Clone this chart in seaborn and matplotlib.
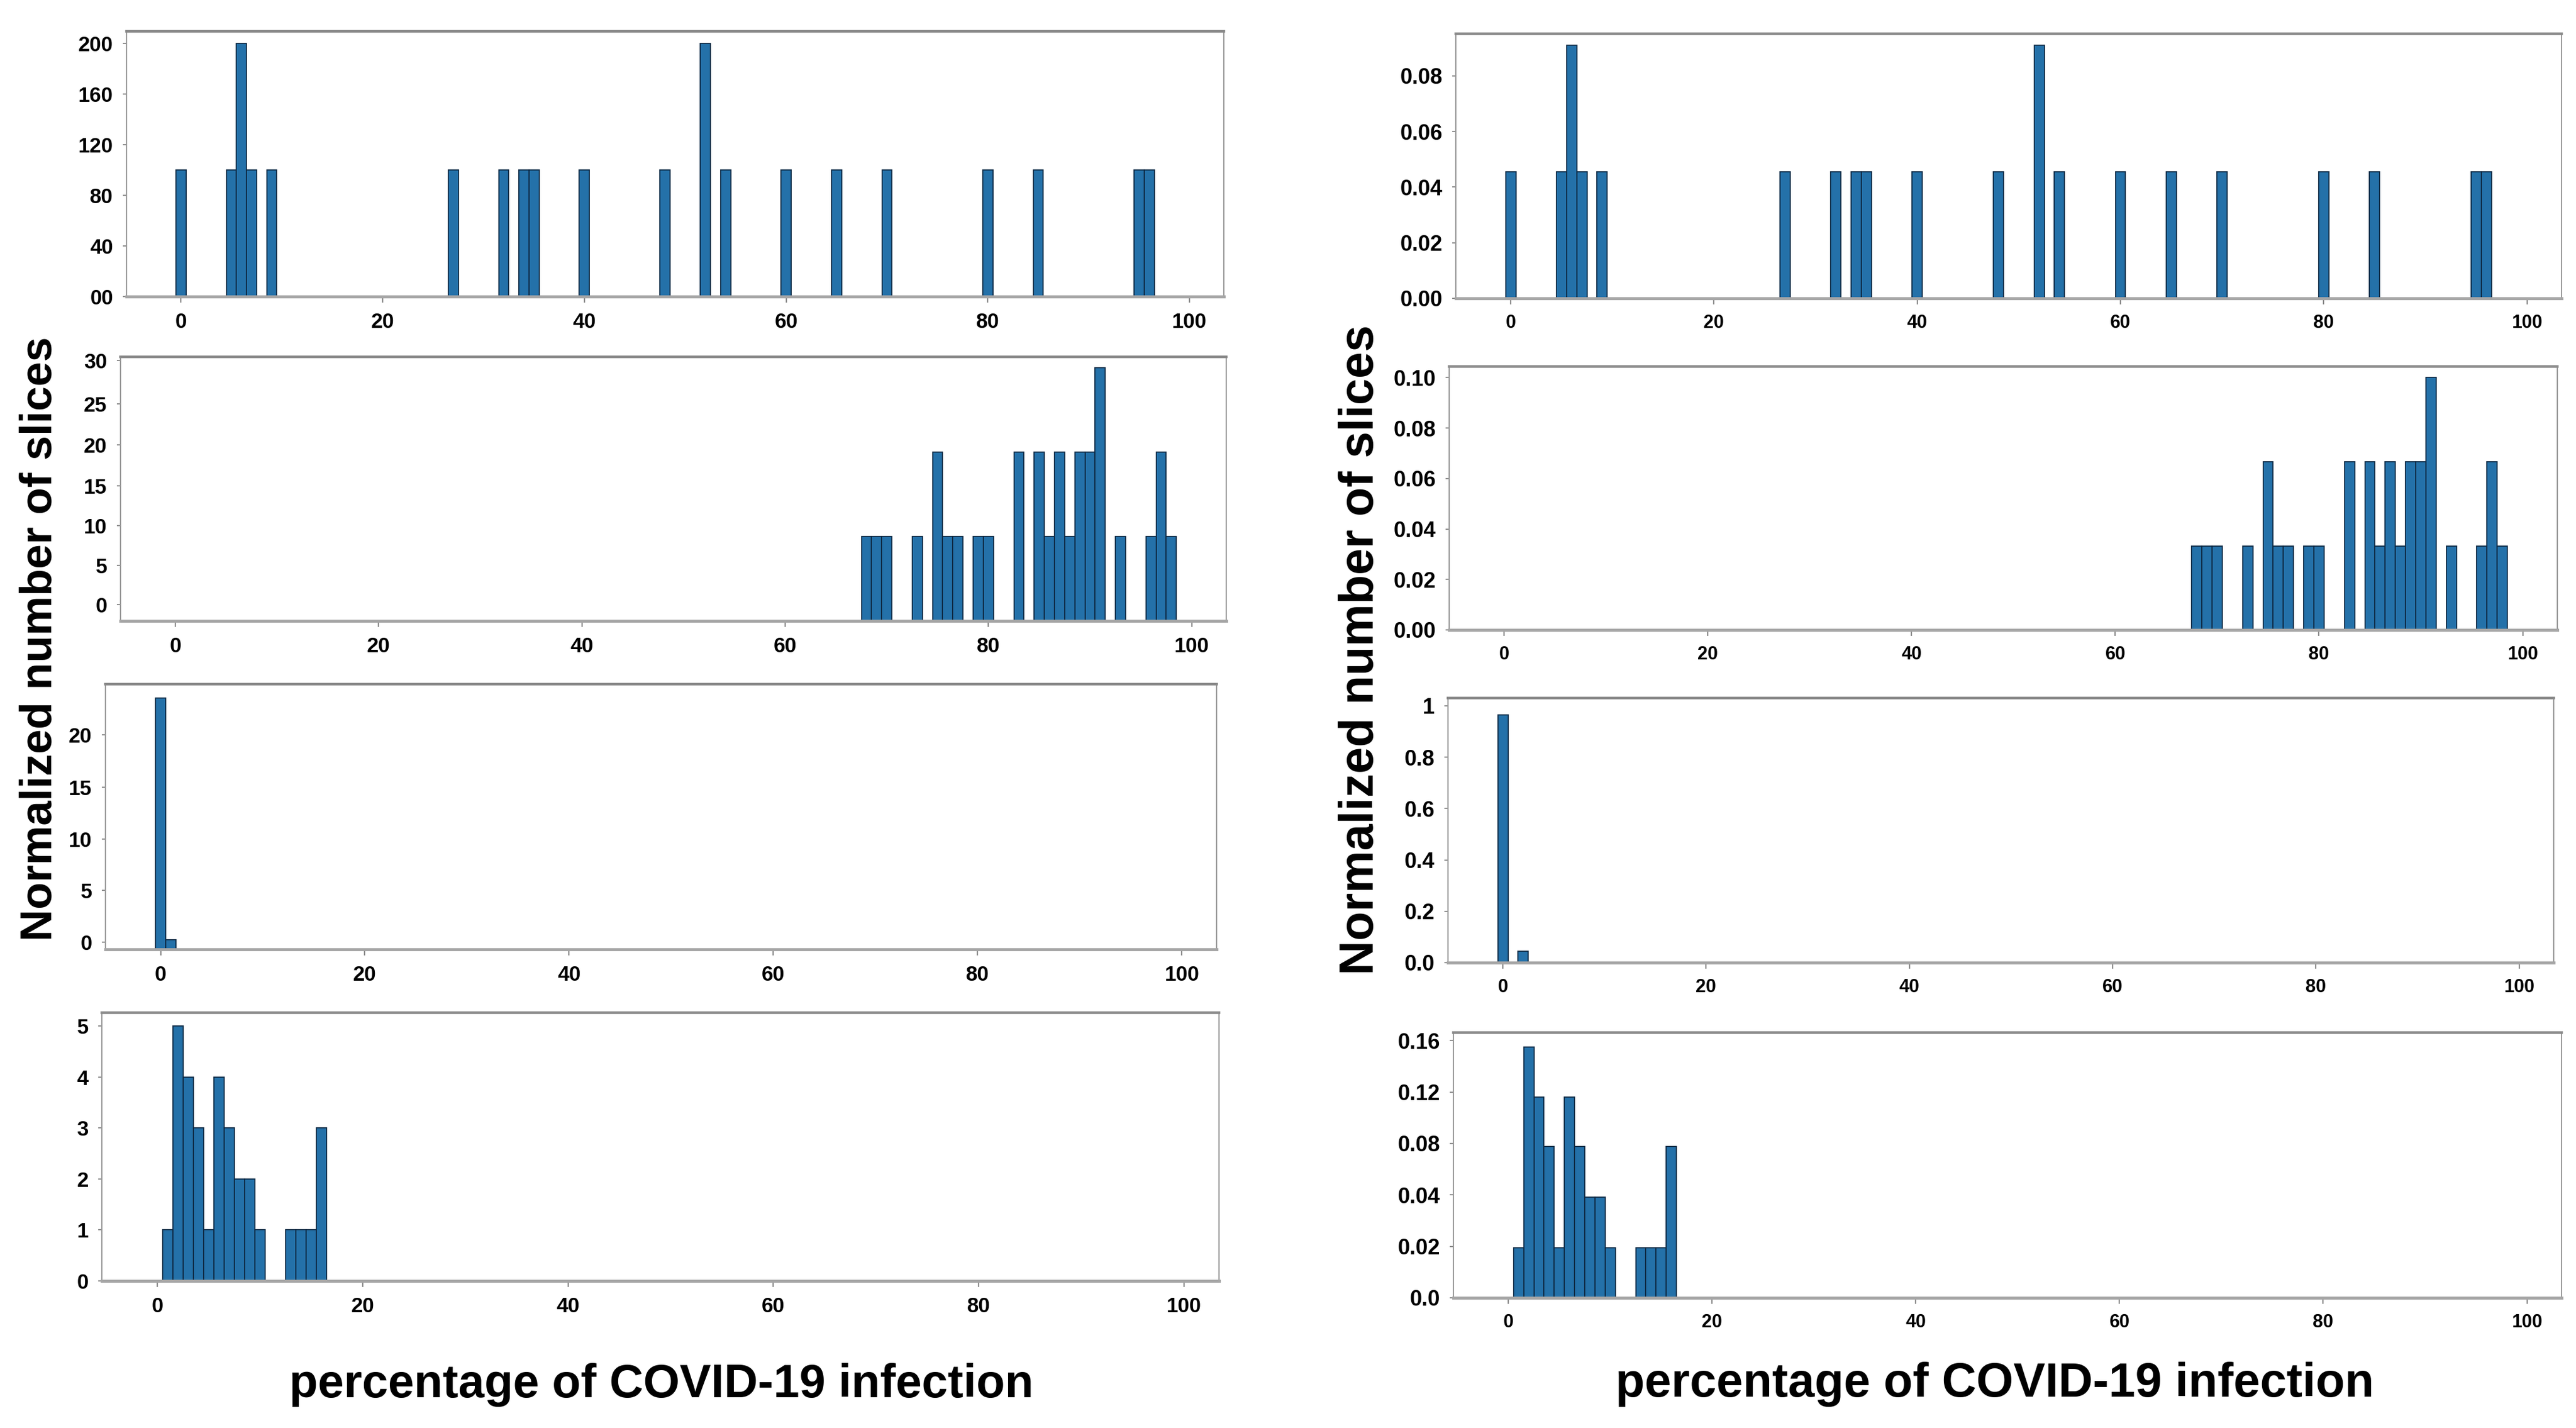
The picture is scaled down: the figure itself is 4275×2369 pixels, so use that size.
import numpy as np
import pandas as pd
import matplotlib
matplotlib.use("Agg")
import matplotlib.pyplot as plt
import seaborn as sns

sns.set_theme(style="white")
plt.rcParams['font.family'] = ['Liberation Sans', 'DejaVu Sans']
plt.rcParams['text.color'] = 'black'

# ---------------- data ----------------
# x categories are percentage-of-infection bins (centres, width 1)
a_pct = [0, 5, 6, 7, 9, 27, 32, 34, 35, 40, 48, 52, 54, 60, 65, 70, 80, 85, 95, 96]
a_left = [100, 100, 200, 100, 100, 100, 100, 100, 100, 100,
          100, 200, 100, 100, 100, 100, 100, 100, 100, 100]
a_right = [0.0455, 0.0455, 0.0909, 0.0455, 0.0455, 0.0455, 0.0455, 0.0455, 0.0455, 0.0455,
           0.0455, 0.0909, 0.0455, 0.0455, 0.0455, 0.0455, 0.0455, 0.0455, 0.0455, 0.0455]

b_pct = [68, 69, 70, 73, 75, 76, 77, 79, 80, 83, 85, 86, 87, 88, 89, 90, 91, 93, 96, 97, 98]
b_left = [10, 10, 10, 10, 20, 10, 10, 10, 10, 20, 20, 10, 20, 10, 20, 20, 30, 10, 10, 20, 10]
b_right = [0.0333, 0.0333, 0.0333, 0.0333, 0.0667, 0.0333, 0.0333, 0.0333, 0.0333, 0.0667,
           0.0667, 0.0333, 0.0667, 0.0333, 0.0667, 0.0667, 0.1, 0.0333, 0.0333, 0.0667, 0.0333]

c_pct_left = [0, 1]
c_left = [23.4, 0.9]
c_pct_right = [0, 2]
c_right = [0.965, 0.045]

d_pct = [1, 2, 3, 4, 5, 6, 7, 8, 9, 10, 13, 14, 15, 16]
d_left = [1, 5, 4, 3, 1, 4, 3, 2, 2, 1, 1, 1, 1, 3]
d_right = [0.031, 0.156, 0.125, 0.094, 0.031, 0.125, 0.094, 0.0625, 0.0625, 0.031,
           0.031, 0.031, 0.031, 0.094]

x_ticks = [0, 20, 40, 60, 80, 100]
x_tick_labels = ['0', '20', '40', '60', '80', '100']

a_left_ticks = [0, 40, 80, 120, 160, 200]
a_left_labels = ['00', '40', '80', '120', '160', '200']
b_left_ticks = [1.9, 6.6, 11.3, 16.0, 20.9, 25.7, 30.9]
b_left_labels = ['0', '5', '10', '15', '20', '25', '30']
c_left_ticks = [0.65, 5.5, 10.3, 15.1, 20.0]
c_left_labels = ['0', '5', '10', '15', '20']
d_left_ticks = [0, 1, 2, 3, 4, 5]
d_left_labels = ['0', '1', '2', '3', '4', '5']

a_right_ticks = [0, 0.02, 0.04, 0.06, 0.08]
a_right_labels = ['0.00', '0.02', '0.04', '0.06', '0.08']
b_right_ticks = [0, 0.02, 0.04, 0.06, 0.08, 0.10]
b_right_labels = ['0.00', '0.02', '0.04', '0.06', '0.08', '0.10']
c_right_ticks = [0.0, 0.2, 0.4, 0.6, 0.8, 1.0]
c_right_labels = ['0.0', '0.2', '0.4', '0.6', '0.8', '1']
d_right_ticks = [0.0, 0.032, 0.064, 0.096, 0.128, 0.16]
d_right_labels = ['0.0', '0.02', '0.04', '0.08', '0.12', '0.16']

y_label = 'Normalized number of slices'
x_label = 'percentage of COVID-19 infection'

# ---------------- drawing ----------------
W, H = 4275, 2369
DPI = 100
fig = plt.figure(figsize=(W / DPI, H / DPI), dpi=DPI, facecolor='white')

BAR = '#2471a9'
EDGE = '#0e2a44'


def rect(x0, y0, x1, y1):
    return [x0 / W, 1 - y1 / H, (x1 - x0) / W, (y1 - y0) / H]


def panel(box, pct, heights, yticks, ylabels, ytop, xfs, yfs):
    ax = fig.add_axes(rect(*box))
    df = pd.DataFrame({'pct': pct, 'h': heights})
    sns.histplot(data=df, x='pct', weights='h', binwidth=1, binrange=(-0.5, 100.5),
                 ax=ax, color=BAR, alpha=1, edgecolor=EDGE, linewidth=1.3)
    ax.set_xlim(-5.4, 103.4)
    ax.set_ylim(0, ytop)
    ax.set_xlabel('')
    ax.set_ylabel('')
    ax.set_xticks(x_ticks, labels=x_tick_labels, fontweight='bold')
    ax.set_yticks(yticks, labels=ylabels, fontweight='bold')
    ax.tick_params(axis='x', bottom=True, direction='out', length=7, width=1.6,
                   color='#8c8c8c', pad=12, labelsize=xfs, labelcolor='black')
    ax.tick_params(axis='y', left=True, direction='out', length=4, width=1.4,
                   color='#8c8c8c', pad=12, labelsize=yfs, labelcolor='black')
    ax.spines['top'].set_linewidth(3.2)
    ax.spines['top'].set_color('#8a8a8a')
    ax.spines['bottom'].set_linewidth(3.6)
    ax.spines['bottom'].set_color('#a6a6a6')
    for s in ('left', 'right'):
        ax.spines[s].set_linewidth(1.5)
        ax.spines[s].set_color('#9a9a9a')
    ax.grid(False)
    return ax


# left column
panel((210, 52, 2031, 492), a_pct, a_left, a_left_ticks, a_left_labels, 209.5, 25, 25)
panel((200, 592, 2035, 1030), b_pct, b_left, b_left_ticks, b_left_labels, 31.3, 25, 25)
panel((175, 1135, 2019, 1575), c_pct_left, c_left, c_left_ticks, c_left_labels, 24.7, 25, 25)
panel((169, 1680, 2023, 2125), d_pct, d_left, d_left_ticks, d_left_labels, 5.26, 25, 25)

# right column
panel((2416, 56, 4251, 495), a_pct, a_right, a_right_ticks, a_right_labels, 0.0951, 22, 26)
panel((2405, 608, 4244, 1045), b_pct, b_right, b_right_ticks, b_right_labels, 0.1044, 22, 26)
panel((2403, 1158, 4238, 1597), c_pct_right, c_right, c_right_ticks, c_right_labels, 1.03, 22, 26)
panel((2412, 1713, 4251, 2153), d_pct, d_right, d_right_ticks, d_right_labels, 0.165, 22, 26)

# axis titles
fig.text(66 / W, 1 - 1060 / H, y_label, rotation=90, ha='center', va='center',
         fontsize=53, fontweight='bold', color='black')
fig.text(2259 / W, 1 - 1078 / H, y_label, rotation=90, ha='center', va='center',
         fontsize=57, fontweight='bold', color='black')
fig.text(1098 / W, 1 - 2297 / H, x_label, ha='center', va='center',
         fontsize=56, fontweight='bold', color='black')
fig.text(3310 / W, 1 - 2297 / H, x_label, ha='center', va='center',
         fontsize=57, fontweight='bold', color='black')

fig.savefig('out.png', dpi=DPI, facecolor='white')
